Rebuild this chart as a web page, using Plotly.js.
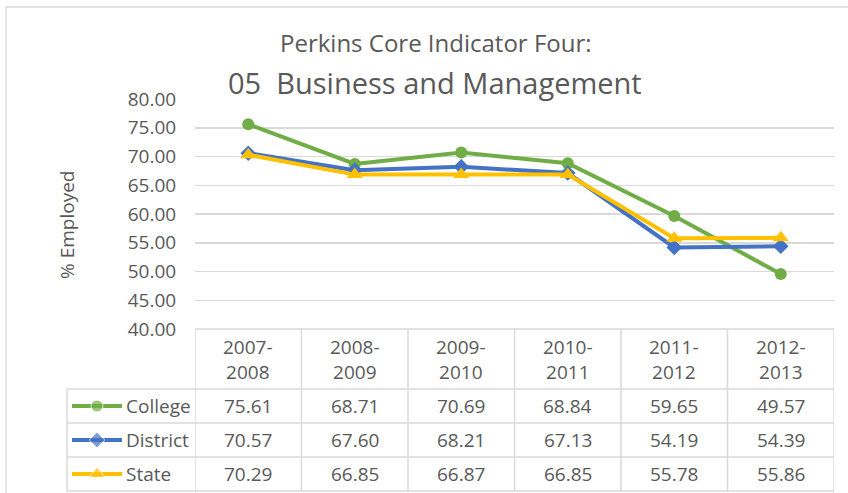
<!DOCTYPE html>
<html>
<head>
<meta charset="utf-8">
<script src="https://cdn.plot.ly/plotly-3.0.1.min.js"></script>
<style>html,body{margin:0;padding:0;background:#fff;}#chart{width:848px;height:493px;}</style>
</head>
<body>
<div id="chart"></div>
<script>
// ---- Data ----
const categories = ['2007-2008', '2008-2009', '2009-2010', '2010-2011', '2011-2012', '2012-2013'];
const seriesNames = ['College', 'District', 'State'];
const college  = [75.61, 68.71, 70.69, 68.84, 59.65, 49.57];
const district = [70.57, 67.60, 68.21, 67.13, 54.19, 54.39];
const state    = [70.29, 66.85, 66.87, 66.85, 55.78, 55.86];
const yTickVals = [40, 45, 50, 55, 60, 65, 70, 75, 80];

// ---- Layout constants (pixels) ----
const W = 848, H = 493;
const plotL = 195, plotR = 834, plotT = 99, plotB = 329;
const tblLeft = 67, headerBottom = 389, rowH = 34;
const px = v => v / W;           // pixel x -> paper
const py = v => 1 - v / H;       // pixel y -> paper
const textColor = '#595959';
const gridColor = '#d9d9d9';
const fontFam = '"Open Sans", "Noto Sans", sans-serif';

const seriesData = [college, district, state];
const colors = ['#70ad47', '#4472c4', '#ffc000'];
const symbols = ['circle', 'diamond', 'triangle-up'];
const msizes = [12, 12, 14];

const traces = [];
// Legend keys inside table (pixel axes x2/y2)
const rowCenters = seriesNames.map((_, i) => headerBottom + rowH * i + rowH / 2);
seriesNames.forEach((n, i) => {
  traces.push({
    type: 'scatter', mode: 'lines+markers', xaxis: 'x2', yaxis: 'y2',
    x: [72, 97, 122], y: [rowCenters[i], rowCenters[i], rowCenters[i]],
    line: {color: colors[i], width: 4},
    marker: {color: colors[i], symbol: symbols[i], size: [0, msizes[i], 0]},
    cliponaxis: false, hoverinfo: 'skip', showlegend: false
  });
});
seriesData.forEach((vals, i) => {
  traces.push({
    type: 'scatter', mode: 'lines+markers',
    x: categories, y: vals, name: seriesNames[i],
    line: {color: colors[i], width: 4},
    marker: {color: colors[i], symbol: symbols[i], size: msizes[i]},
    cliponaxis: false, hoverinfo: 'skip'
  });
});

const shapes = [];
const annotations = [];
const borderLine = {color: gridColor, width: 1.5};

// Outer chart border
shapes.push({type: 'rect', xref: 'paper', yref: 'paper', x0: px(6), x1: px(900), y0: py(7), y1: py(560),
  line: {color: gridColor, width: 1.3}, fillcolor: 'rgba(0,0,0,0)', layer: 'below'});

// Table horizontal borders
shapes.push({type: 'line', xref: 'paper', yref: 'paper', x0: px(plotL), x1: px(plotR), y0: py(plotB), y1: py(plotB), line: borderLine});
for (let r = 0; r <= seriesNames.length; r++) {
  const yy = headerBottom + r * rowH;
  shapes.push({type: 'line', xref: 'paper', yref: 'paper', x0: px(tblLeft), x1: px(plotR), y0: py(yy), y1: py(yy), line: borderLine});
}
// Table vertical borders (category boundaries)
const tblBottom = headerBottom + seriesNames.length * rowH;
for (let c = 0; c <= categories.length; c++) {
  shapes.push({type: 'line', xref: 'x', yref: 'paper', x0: c - 0.5, x1: c - 0.5, y0: py(plotB), y1: py(tblBottom), line: borderLine});
}
shapes.push({type: 'line', xref: 'paper', yref: 'paper', x0: px(tblLeft), x1: px(tblLeft), y0: py(headerBottom), y1: py(tblBottom), line: borderLine});

// Header cells
categories.forEach((c, i) => {
  const parts = c.split('-');
  annotations.push({xref: 'x', yref: 'paper', x: i, y: py((plotB + headerBottom) / 2),
    text: parts[0] + '-<br>' + parts[1], showarrow: false, xanchor: 'center', yanchor: 'middle',
    font: {family: fontFam, size: 19, color: textColor}});
});
// Data cells
seriesData.forEach((vals, r) => {
  vals.forEach((v, i) => {
    annotations.push({xref: 'x', yref: 'paper', x: i, y: py(rowCenters[r]),
      text: v.toFixed(2), showarrow: false, xanchor: 'center', yanchor: 'middle',
      font: {family: fontFam, size: 19, color: textColor}});
  });
  annotations.push({xref: 'paper', yref: 'paper', x: px(124), y: py(rowCenters[r]),
    text: seriesNames[r], showarrow: false, xanchor: 'left', yanchor: 'middle',
    font: {family: fontFam, size: 19, color: textColor}});
});

// Titles
annotations.push({xref: 'paper', yref: 'paper', x: px(436), y: py(43), text: 'Perkins Core Indicator Four:',
  showarrow: false, xanchor: 'center', yanchor: 'middle', font: {family: fontFam, size: 24, color: textColor}});
annotations.push({xref: 'paper', yref: 'paper', x: px(435), y: py(82), text: '05\u00a0\u00a0Business and Management',
  showarrow: false, xanchor: 'center', yanchor: 'middle', font: {family: fontFam, size: 29, color: textColor}});
// Y axis title
annotations.push({xref: 'paper', yref: 'paper', x: px(67), y: py(225), text: '% Employed', textangle: -90,
  showarrow: false, xanchor: 'center', yanchor: 'middle', font: {family: fontFam, size: 19, color: textColor}});

const layout = {
  width: W, height: H,
  margin: {l: 0, r: 0, t: 0, b: 0},
  paper_bgcolor: '#ffffff', plot_bgcolor: 'rgba(0,0,0,0)',
  showlegend: false,
  font: {family: fontFam, color: textColor},
  xaxis2: {domain: [0, 1], range: [0, W], visible: false, anchor: 'y2', fixedrange: true},
  yaxis2: {domain: [0, 1], range: [H, 0], visible: false, anchor: 'x2', fixedrange: true},
  xaxis: {domain: [px(plotL), px(plotR)], range: [-0.5, categories.length - 0.5], type: 'category',
    showticklabels: false, showgrid: false, zeroline: false, showline: false, ticks: '', fixedrange: true},
  yaxis: {domain: [py(plotB), py(plotT)], range: [40, 80], tickvals: yTickVals, tickformat: '.2f',
    showgrid: true, gridcolor: gridColor, gridwidth: 1.5, zeroline: false, showline: false,
    ticks: 'outside', ticklen: 14, tickcolor: 'rgba(0,0,0,0)',
    tickfont: {family: fontFam, size: 19, color: textColor}, fixedrange: true},
  shapes: shapes,
  annotations: annotations
};

Plotly.newPlot('chart', traces, layout, {displayModeBar: false, staticPlot: true});
</script>
</body>
</html>
